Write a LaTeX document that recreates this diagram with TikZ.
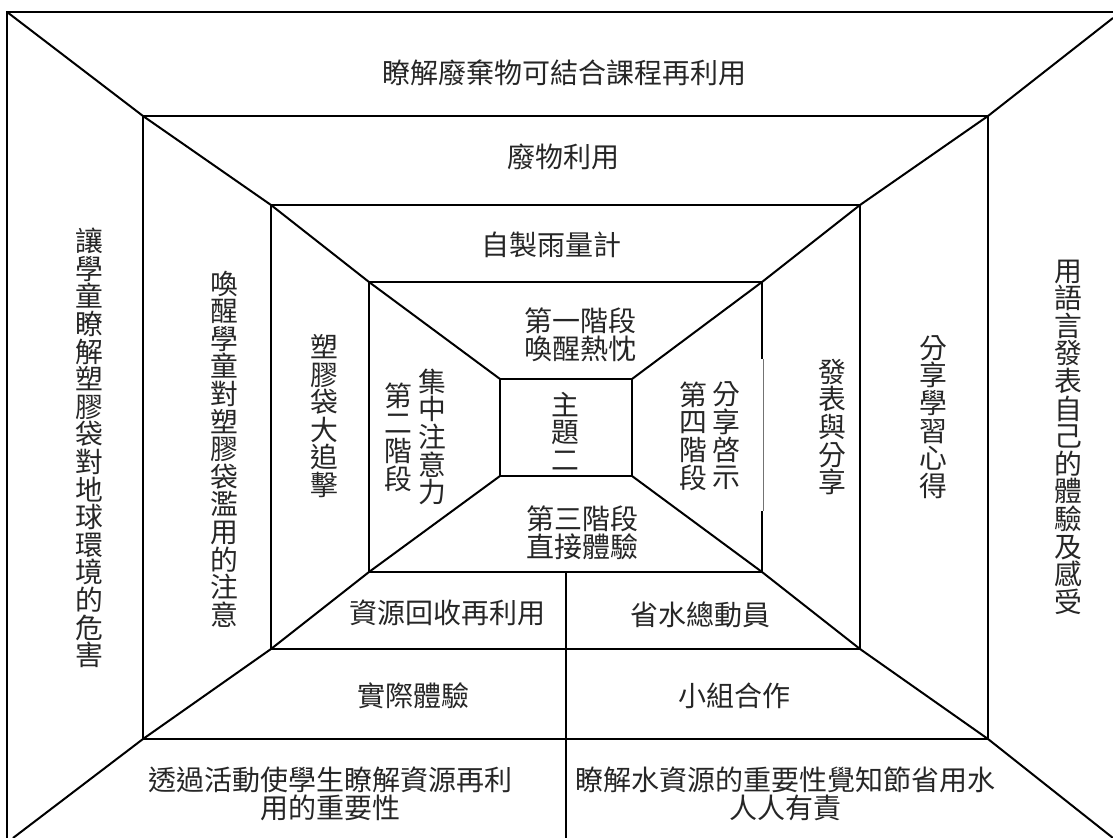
\documentclass[tikz,border=0pt]{standalone}
\usepackage{fontspec}
\newfontfamily\cjk{Noto Sans CJK TC}
\begin{document}
\begin{tikzpicture}[x=0.5pt,y=-0.5pt,line width=1pt,line join=miter,
  lbl/.style={font=\cjk\fontsize{13.9}{13.8}\selectfont,inner sep=0pt,align=center,text=black!85},
  hl/.style={font=\cjk\fontsize{14}{14.2}\selectfont,inner sep=0pt,align=center,text=black!85},
  thinseg/.style={line width=0.5pt,draw=black!55}]
\useasboundingbox (0,0) rectangle (1113,838);
\clip (0,0) rectangle (1113,838);
% outer frame corners
\coordinate (O1) at (7,12);
\coordinate (Otr) at (1130,12);
\coordinate (Obl) at (7,850);
\coordinate (O2) at (1113,18);
\coordinate (O3) at (13,838);
\coordinate (O4) at (1113,838);
% rectangles
\coordinate (A1) at (143,116); \coordinate (A2) at (988,116);
\coordinate (A3) at (988,739); \coordinate (A4) at (143,739);
\coordinate (B1) at (271,205); \coordinate (B2) at (860,205);
\coordinate (B3) at (860,649); \coordinate (B4) at (271,649);
\coordinate (C1) at (369,282); \coordinate (C2) at (762,282);
\coordinate (C3) at (762,572); \coordinate (C4) at (369,572);
\coordinate (D1) at (500,379); \coordinate (D2) at (632,379);
\coordinate (D3) at (632,476); \coordinate (D4) at (500,476);
\coordinate (Ca) at (762,359); \coordinate (Cb) at (762,511);
\coordinate (Cat) at (763,359); \coordinate (Cbt) at (763,511);
\coordinate (Vt) at (566,572); \coordinate (Vb) at (566,850);
% frame
\draw (Obl) -- (O1) -- (Otr);
\draw (A1) -- (A2) -- (A3) -- (A4) -- cycle;
\draw (B1) -- (B2) -- (B3) -- (B4) -- cycle;
\draw (Ca) -- (C2) -- (C1) -- (C4) -- (C3) -- (Cb);
\draw[thinseg] (Cat) -- (Cbt);
\draw (D1) -- (D2) -- (D3) -- (D4) -- cycle;
% diagonals
\draw (O1) -- (A1) -- (B1) -- (C1) -- (D1);
\draw (O2) -- (A2) -- (B2) -- (C2) -- (D2);
\draw (O3) -- (A4) -- (B4) -- (C4) -- (D4);
\draw (O4) -- (A3) -- (B3) -- (C3) -- (D3);
\draw (Vt) -- (Vb);
% horizontal labels
\node[hl] (t1) at (564,73) {瞭解廢棄物可結合課程再利用};
\node[hl] (t2) at (563,157) {廢物利用};
\node[hl] (t3) at (551,245) {自製雨量計};
\node[hl] (t4) at (580,335) {第一階段\\喚醒熱忱};
\node[hl] (t5) at (582,533) {第三階段\\直接體驗};
\node[hl] (b1) at (447,613) {資源回收再利用};
\node[hl] (b2) at (700,615) {省水總動員};
\node[hl] (b3) at (413,696) {實際體驗};
\node[hl] (b4) at (734,696) {小組合作};
\node[hl] (b5) at (330,794) {透過活動使學生瞭解資源再利\\用的重要性};
\node[hl] (b6) at (785,794) {瞭解水資源的重要性覺知節省用水\\人人有責};
% vertical labels
\node[lbl] (v1) at (89,448) {讓\\學\\童\\瞭\\解\\塑\\膠\\袋\\對\\地\\球\\環\\境\\的\\危\\害};
\node[lbl] (v2) at (224,449) {喚\\醒\\學\\童\\對\\塑\\膠\\袋\\濫\\用\\的\\注\\意};
\node[lbl] (v3) at (324,416) {塑\\膠\\袋\\大\\追\\擊};
\node[lbl] (v4) at (432,437) {集\\中\\注\\意\\力};
\node[lbl] (v5) at (398,437) {第\\二\\階\\段};
\node[lbl] (v6) at (565,431) {主\\題\\二};
\node[lbl] (v7) at (693,436) {第\\四\\階\\段};
\node[lbl] (v8) at (726,436) {分\\享\\啓\\示};
\node[lbl] (v9) at (832,427) {發\\表\\與\\分\\享};
\node[lbl] (v10) at (933,417) {分\\享\\學\\習\\心\\得};
\node[lbl] (v11) at (1068,437) {用\\語\\言\\發\\表\\自\\己\\的\\體\\驗\\及\\感\\受};
\end{tikzpicture}
\end{document}
